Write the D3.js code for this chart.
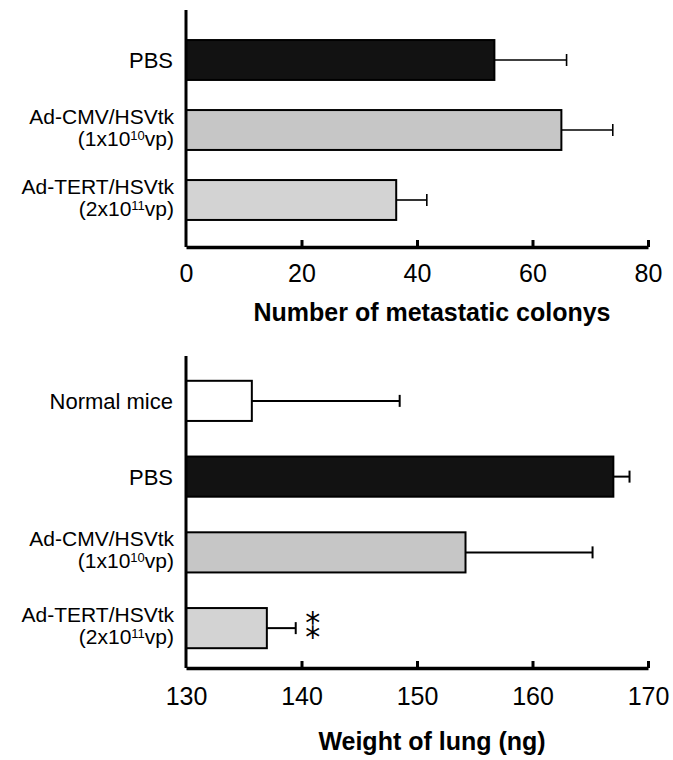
<!DOCTYPE html>
<html>
<head>
<meta charset="utf-8">
<script src="https://cdn.jsdelivr.net/npm/d3@7"></script>
<style>
  body { margin: 0; background: #fff; }
  text { font-family: "Liberation Sans", Arial, sans-serif; fill: #000; }
</style>
</head>
<body>
<svg id="chart" width="673" height="760"></svg>
<script>
// top panel: metastatic colonies
const topCategories = ["PBS", "Ad-CMV/HSVtk (1x10^10vp)", "Ad-TERT/HSVtk (2x10^11vp)"];
const topMeans = [53.4, 65.0, 36.4];
const topErrors = [12.5, 8.9, 5.3];
const topTicks = [0, 20, 40, 60, 80];

// bottom panel: lung weight
const bottomCategories = ["Normal mice", "PBS", "Ad-CMV/HSVtk (1x10^10vp)", "Ad-TERT/HSVtk (2x10^11vp)"];
const bottomMeans = [135.7, 167.0, 154.2, 137.0];
const bottomErrors = [12.8, 1.4, 11.0, 2.5];
const bottomMarks = ["", "", "", "**"];
const bottomTicks = [130, 140, 150, 160, 170];

const fills = {
  "Normal mice": "#ffffff",
  "PBS": "#121212",
  "Ad-CMV/HSVtk (1x10^10vp)": "#c6c6c6",
  "Ad-TERT/HSVtk (2x10^11vp)": "#d3d3d3"
};

const svg = d3.select("#chart");
const left = 186, right = 648;

function drawPanel(opt) {
  const g = svg.append("g");

  const x = d3.scaleLinear().domain(opt.domain).range([left, right]);
  const y = d3.scaleBand()
      .domain(opt.categories)
      .range(opt.band)
      .paddingInner(opt.pad)
      .paddingOuter(opt.pad / 2);

  // bars
  g.selectAll("rect.bar")
    .data(opt.categories)
    .enter().append("rect")
      .attr("class", "bar")
      .attr("x", x(opt.domain[0]))
      .attr("y", d => y(d))
      .attr("width", (d, i) => x(opt.means[i]) - x(opt.domain[0]))
      .attr("height", y.bandwidth())
      .attr("fill", d => fills[d])
      .attr("stroke", "#000")
      .attr("stroke-width", 2);

  // error bars
  const cy = d => y(d) + y.bandwidth() / 2;
  g.selectAll("line.err")
    .data(opt.categories)
    .enter().append("line")
      .attr("x1", (d, i) => x(opt.means[i]))
      .attr("x2", (d, i) => x(opt.means[i] + opt.errors[i]))
      .attr("y1", cy).attr("y2", cy)
      .attr("stroke", "#000").attr("stroke-width", opt.errWidth);
  g.selectAll("line.cap")
    .data(opt.categories)
    .enter().append("line")
      .attr("x1", (d, i) => x(opt.means[i] + opt.errors[i]))
      .attr("x2", (d, i) => x(opt.means[i] + opt.errors[i]))
      .attr("y1", d => cy(d) - 6).attr("y2", d => cy(d) + 6)
      .attr("stroke", "#000").attr("stroke-width", opt.errWidth);

  // significance marks: "**" shown as the stacked double asterisk glyph
  if (opt.marks) {
    opt.categories.forEach((d, i) => {
      if (!opt.marks[i]) return;
      g.append("text")
        .attr("x", x(opt.means[i] + opt.errors[i]) + 17)
        .attr("y", cy(d))
        .attr("dy", "0.35em")
        .attr("text-anchor", "middle")
        .style("font-family", "'DejaVu Sans', sans-serif")
        .attr("font-size", "30px")
        .text(opt.marks[i] === "**" ? "\u2051" : opt.marks[i]);
    });
  }

  // category labels, second line carries the dose with superscript
  opt.categories.forEach(d => {
    const parts = d.split(" (");
    if (parts.length === 1) {
      g.append("text")
        .attr("text-anchor", "end")
        .attr("font-size", "22px")
        .attr("x", left - 13).attr("y", cy(d) + 8).text(d);
    } else {
      g.append("text")
        .attr("text-anchor", "end")
        .attr("font-size", "21px")
        .attr("x", left - 12).attr("y", cy(d) - 6).text(parts[0]);
      const m = ("(" + parts[1]).match(/^(.*)\^(\d+)(.*)$/);
      const t = g.append("text")
        .attr("text-anchor", "end")
        .attr("font-size", "21px")
        .attr("x", left - 12).attr("y", cy(d) + 16);
      t.append("tspan").text(m[1]);
      t.append("tspan").attr("dy", -6).attr("font-size", "13px").text(m[2]);
      t.append("tspan").attr("dy", 6).text(m[3]);
    }
  });

  // y axis line
  g.append("line")
    .attr("x1", left).attr("x2", left)
    .attr("y1", opt.top).attr("y2", opt.axisY)
    .attr("stroke", "#000").attr("stroke-width", 3);

  // x axis
  const ax = g.append("g")
    .attr("transform", `translate(0,${opt.axisY})`)
    .call(d3.axisBottom(x).tickValues(opt.ticks).tickSizeInner(-7).tickSizeOuter(0).tickPadding(opt.tickPad));
  ax.select(".domain").attr("stroke", "#000").attr("stroke-width", 3.5);
  ax.selectAll(".tick line").attr("stroke", "#000").attr("stroke-width", 3)
    .filter(d => d === opt.domain[0]).remove();
  ax.selectAll(".tick text")
    .attr("font-size", "25px")
    .attr("font-family", "'Liberation Sans', Arial, sans-serif")
    .attr("fill", "#000");

  // axis title
  g.append("text")
    .attr("x", 432).attr("y", opt.titleY)
    .attr("text-anchor", "middle")
    .attr("font-size", "25px")
    .attr("font-weight", "bold")
    .text(opt.title);
}

drawPanel({
  categories: topCategories, means: topMeans, errors: topErrors,
  domain: [0, 80], ticks: topTicks,
  band: [25, 235], pad: 0.43, top: 10, axisY: 247,
  tickPad: 17, errWidth: 1.6, titleY: 321,
  title: "Number of metastatic colonys"
});

drawPanel({
  categories: bottomCategories, means: bottomMeans, errors: bottomErrors, marks: bottomMarks,
  domain: [130, 170], ticks: bottomTicks,
  band: [363, 666], pad: 0.47, top: 356, axisY: 668,
  tickPad: 19, errWidth: 2, titleY: 750,
  title: "Weight of lung (ng)"
});
</script>
</body>
</html>
